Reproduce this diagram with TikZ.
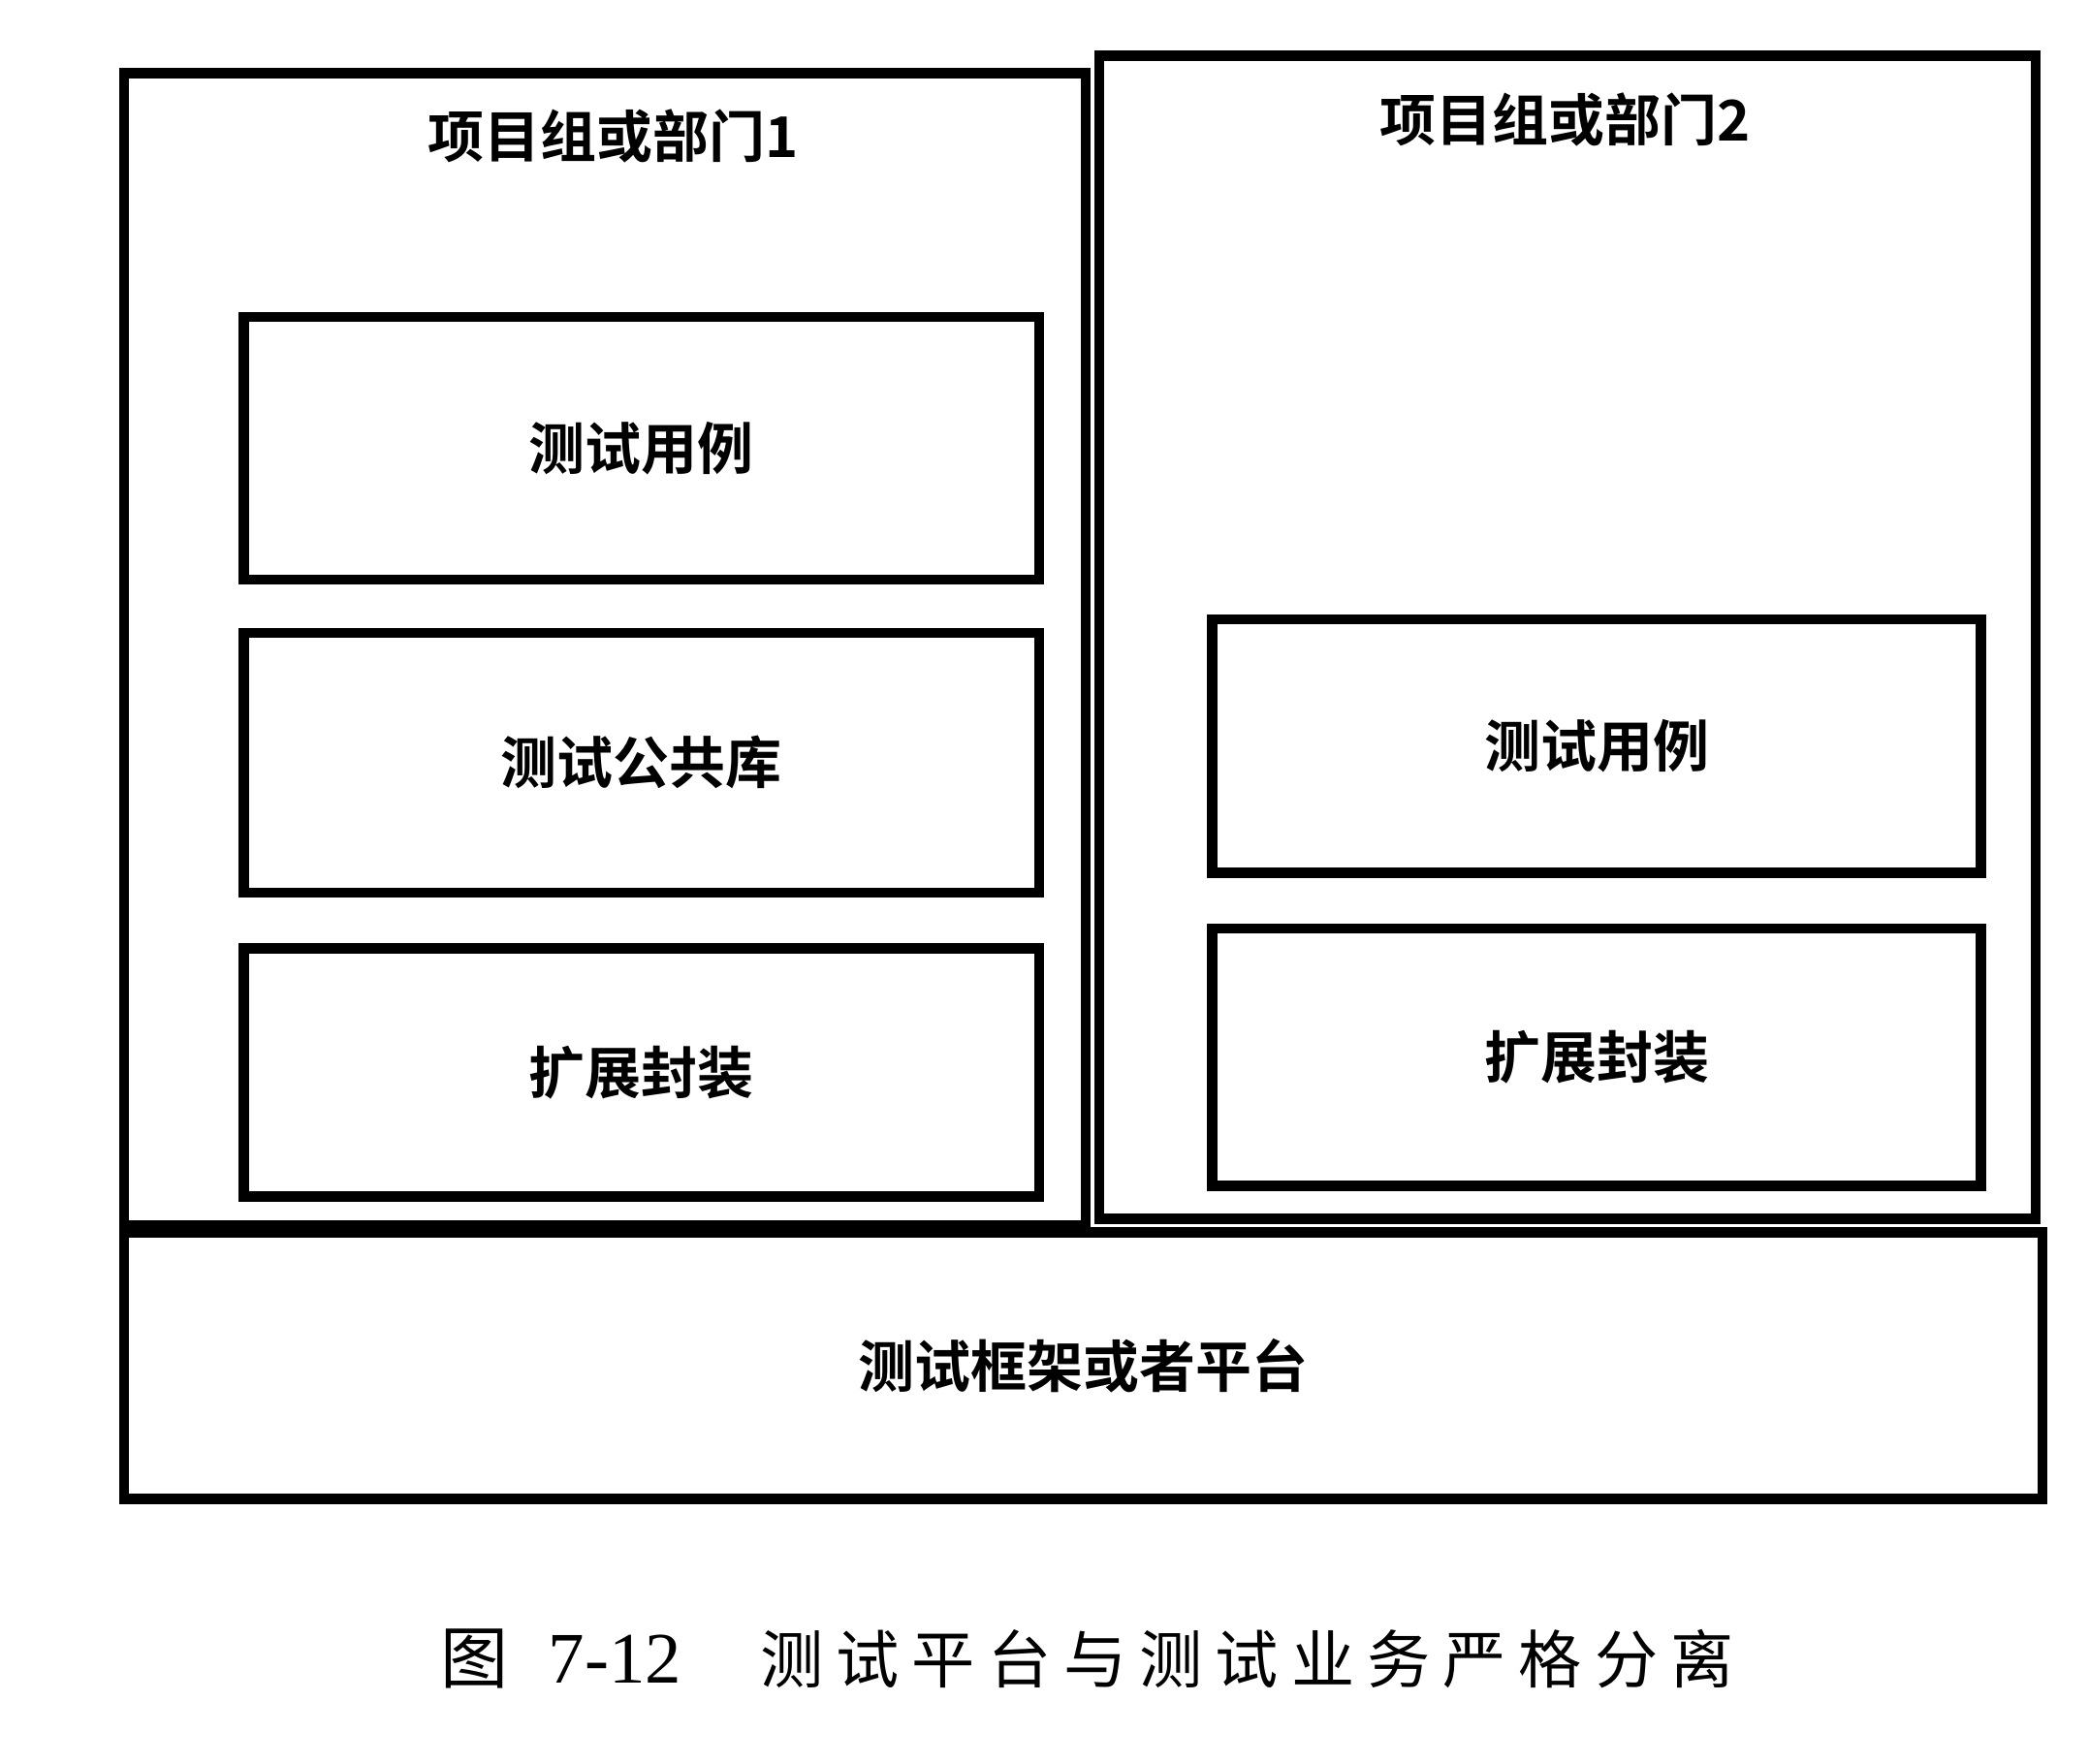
\documentclass[tikz,border=0pt]{standalone}
\usepackage{fontspec}
\setmainfont{Liberation Serif}
\newfontfamily\cjk{Noto Sans CJK SC}
\newfontfamily\cjkb{Noto Sans CJK SC Bold}
\usetikzlibrary{positioning}

\tikzset{
  frame/.style={draw, line width=2.2pt, inner sep=0pt},
  layer/.style={frame, font=\cjkb\fontsize{12}{14}\selectfont},
  grouptitle/.style={font=\cjkb\fontsize{12}{14}\selectfont}
}

\begin{document}
\begin{tikzpicture}
\useasboundingbox (0,0) rectangle (15.68,-13.24);
% two groups
\node[frame, minimum width=7.22cm, minimum height=8.65cm] (grpA) at (4.54,-4.875) {};
\node[frame, minimum width=7.03cm, minimum height=8.73cm] (grpB) at (11.765,-4.785) {};
\node[grouptitle] (titleA) at (4.6,-1.02) {项目组或部门1};
\node[grouptitle] (titleB) at (11.75,-0.9) {项目组或部门2};
% group 1 layers
\node[layer, minimum width=5.97cm, minimum height=1.97cm] (caseA) at (4.815,-3.365) {测试用例};
\node[layer, minimum width=5.97cm, minimum height=1.95cm] (libA) at (4.815,-5.725) {测试公共库};
\node[layer, minimum width=5.97cm, minimum height=1.86cm] (extA) at (4.815,-8.05) {扩展封装};
% group 2 layers
\node[layer, minimum width=5.77cm, minimum height=1.90cm] (caseB) at (11.985,-5.6) {测试用例};
\node[layer, minimum width=5.77cm, minimum height=1.93cm] (extB) at (11.985,-7.935) {扩展封装};
% platform
\node[layer, minimum width=14.4cm, minimum height=2.0cm] (base) at (8.13,-10.25) {测试框架或者平台};
% caption
\node[font=\fontsize{15.5}{20}\selectfont, inner sep=0pt, anchor=west] (capnum) at (3.3,-12.45) {{\cjk\fontsize{14.5}{20}\selectfont 图}\hspace{0.3cm}7-12};
\node[font=\cjk\fontsize{13.5}{20}\selectfont\addfontfeatures{LetterSpace=20}, inner sep=0pt, anchor=west] (captext) at (5.7,-12.45) {测试平台与测试业务严格分离};
\end{tikzpicture}
\end{document}
